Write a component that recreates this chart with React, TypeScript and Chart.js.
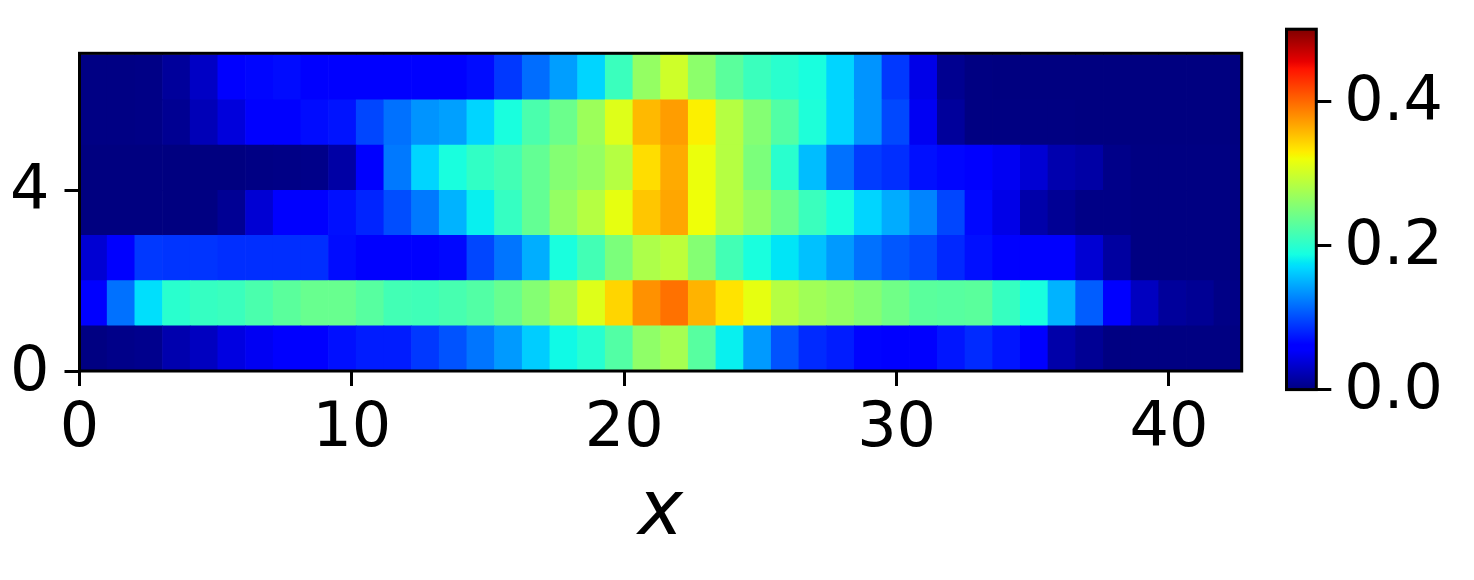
import React, { useEffect, useRef } from "react";
import { Chart, registerables } from "chart.js";

Chart.register(...registerables);

const row0 = [.001,.004,.006,.02,.028,.042,.05,.056,.062,.07,.076,.076,.09,.103,.12,.138,.163,.185,.198,.225,.262,.275,.228,.18,.138,.103,.083,.076,.064,.058,.06,.073,.083,.073,.056,.018,.009,.001,.001,.001,.001,.001];
const row1 = [.056,.118,.172,.2,.207,.21,.22,.23,.238,.238,.228,.215,.213,.218,.225,.238,.255,.275,.31,.342,.378,.395,.36,.335,.315,.285,.272,.265,.255,.243,.23,.228,.23,.208,.19,.15,.108,.056,.028,.012,.009,.003];
const row2 = [.036,.058,.09,.088,.088,.085,.085,.085,.085,.068,.062,.056,.062,.066,.097,.12,.148,.19,.215,.25,.28,.29,.255,.215,.19,.175,.157,.138,.118,.105,.098,.082,.07,.063,.06,.056,.036,.014,.001,.001,.001,.001];
const row3 = [0,0,0,0,.001,.009,.036,.055,.062,.07,.08,.1,.122,.15,.18,.207,.235,.265,.285,.315,.35,.367,.32,.285,.265,.24,.21,.19,.167,.147,.127,.097,.066,.045,.018,.009,.003,.003,.001,.001,.001,.001];
const row4 = [0,0,0,0,0,0,.002,.003,.004,.016,.055,.122,.167,.19,.205,.215,.235,.255,.265,.285,.338,.365,.318,.285,.25,.2,.155,.118,.092,.085,.07,.065,.058,.05,.036,.02,.016,.004,.001,.001,.001,.001];
const row5 = [.002,.002,.003,.008,.024,.04,.058,.062,.068,.072,.097,.118,.135,.141,.167,.19,.22,.24,.27,.31,.357,.372,.328,.285,.255,.225,.193,.167,.135,.098,.05,.012,.001,.001,.001,.001,0,0,0,0,0,0];
const row6 = [.002,.002,.003,.012,.03,.06,.065,.068,.06,.06,.06,.06,.06,.06,.068,.09,.116,.14,.167,.21,.265,.3,.26,.23,.21,.2,.19,.167,.135,.09,.045,.007,.001,0,0,0,0,0,0,0,0,0];
const rows = [row0, row1, row2, row3, row4, row5, row6];
const columnLabels = row0.map((_, i) => String(i));

const xLimit = 42.67;
const yLimit = 7.03;
const xTickStep = 10;
const yTickStep = 4;
const colorbarLimit = 0.5;
const colorbarTickStep = 0.2;
const colorbarSpan = [0, colorbarLimit];
const gradientStops = [0, 0.11, 0.125, 0.34, 0.35, 0.375, 0.64, 0.65, 0.66, 0.89, 0.91, 1];

const FONT = "'DejaVu Sans'";
const TICK_SIZE = 62;
const Y_LABEL_NUDGE = 2.5;

function ramp(t: number, pts: number[][]) {
  for (let i = 1; i < pts.length; i++) {
    if (t <= pts[i][0]) {
      const [a, av] = pts[i - 1];
      const [b, bv] = pts[i];
      return av + ((t - a) / (b - a)) * (bv - av);
    }
  }
  return pts[pts.length - 1][1];
}

function jet(t: number) {
  const r = ramp(t, [[0, 0], [0.35, 0], [0.66, 1], [0.89, 1], [1, 0.5]]);
  const g = ramp(t, [[0, 0], [0.125, 0], [0.375, 1], [0.64, 1], [0.91, 0], [1, 0]]);
  const b = ramp(t, [[0, 0.5], [0.11, 1], [0.34, 1], [0.65, 0], [1, 0]]);
  return `rgb(${Math.round(r * 255)},${Math.round(g * 255)},${Math.round(b * 255)})`;
}

const framePlugin = {
  id: "frame",
  beforeDraw(chart: any) {
    chart.scales.y.getLabelItems().forEach((item: any) => {
      item.textOffset += Y_LABEL_NUDGE;
    });
  },
  afterDatasetsDraw(chart: any) {
    const { ctx, chartArea: a } = chart;
    ctx.save();
    ctx.strokeStyle = "#000";
    ctx.lineWidth = 3;
    ctx.strokeRect(a.left, a.top, a.right - a.left, a.bottom - a.top);
    ctx.restore();
  },
};

const tickGrid = { drawOnChartArea: false, drawTicks: true, tickLength: 15, tickWidth: 3, tickColor: "#000", offset: false };

export default function App() {
  const mainRef = useRef<HTMLCanvasElement>(null);
  const barRef = useRef<HTMLCanvasElement>(null);

  useEffect(() => {
    const main = new Chart(mainRef.current!, {
      type: "bar",
      data: {
        labels: columnLabels,
        datasets: rows.map((vals, r) => ({
          data: vals.map(() => [r, r + 1]),
          backgroundColor: vals.map((v) => jet(v / colorbarLimit)),
          xAxisID: "cat",
          yAxisID: "y",
          grouped: false,
          barPercentage: 1,
          categoryPercentage: 1,
          borderWidth: 0,
        })),
      } as any,
      options: {
        responsive: false,
        animation: false,
        layout: { padding: { top: 53.3, right: 232.3, left: 0, bottom: 0 } },
        plugins: { legend: { display: false }, tooltip: { enabled: false } },
        scales: {
          cat: { type: "category", axis: "x", position: "bottom", display: false, offset: true, grid: { display: false } },
          x: {
            type: "linear",
            position: "bottom",
            min: 0,
            max: xLimit,
            offset: false,
            afterFit: (s: any) => { s.height = 209; },
            border: { display: false },
            grid: tickGrid,
            ticks: {
              stepSize: xTickStep,
              includeBounds: false,
              maxRotation: 0,
              autoSkip: false,
              padding: 7,
              color: "#000",
              font: { family: FONT, size: TICK_SIZE },
            },
            title: {
              display: true,
              text: "x",
              color: "#000",
              padding: { top: 0, bottom: 20 },
              font: { family: FONT, size: 76, style: "italic" },
            },
          },
          y: {
            type: "linear",
            position: "left",
            min: 0,
            max: yLimit,
            afterFit: (s: any) => { s.width = 79.5; s.paddingTop = 0; s.paddingBottom = 0; },
            border: { display: false },
            grid: tickGrid,
            ticks: {
              stepSize: yTickStep,
              includeBounds: false,
              autoSkip: false,
              padding: 15,
              color: "#000",
              font: { family: FONT, size: TICK_SIZE },
            },
          },
        },
      } as any,
      plugins: [framePlugin],
    });

    const bar = new Chart(barRef.current!, {
      type: "bar",
      data: {
        labels: ["colorbar"],
        datasets: [
          {
            data: [colorbarSpan],
            barPercentage: 1,
            categoryPercentage: 1,
            borderWidth: 0,
            backgroundColor: (c: any) => {
              const a = c.chart.chartArea;
              if (!a) return "#000";
              const y = c.chart.scales.y;
              const g = c.chart.ctx.createLinearGradient(0, y.getPixelForValue(0), 0, y.getPixelForValue(colorbarLimit));
              gradientStops.forEach((t) => g.addColorStop(t, jet(t)));
              return g;
            },
          },
        ],
      } as any,
      options: {
        responsive: false,
        animation: false,
        layout: { padding: { left: 46.5, top: 29.2, bottom: 190.4, right: 0 } },
        plugins: { legend: { display: false }, tooltip: { enabled: false } },
        scales: {
          x: { type: "category", display: false, offset: true, grid: { display: false } },
          y: {
            type: "linear",
            position: "right",
            min: 0,
            max: colorbarLimit,
            afterFit: (s: any) => { s.width = 157.7; s.paddingTop = 0; s.paddingBottom = 0; },
            border: { display: false },
            grid: tickGrid,
            ticks: {
              stepSize: colorbarTickStep,
              includeBounds: false,
              autoSkip: false,
              padding: 13,
              color: "#000",
              font: { family: FONT, size: TICK_SIZE },
              callback: (v: any) => Number(v).toFixed(1),
            },
          },
        },
      } as any,
      plugins: [framePlugin],
    });

    return () => {
      main.destroy();
      bar.destroy();
    };
  }, []);

  return (
    <div style={{ position: "fixed", left: 0, top: 0, width: 1474, height: 580, background: "#fff" }}>
      <canvas ref={mainRef} width={1474} height={580} style={{ position: "absolute", left: 0, top: 0 }} />
      <canvas ref={barRef} width={234} height={580} style={{ position: "absolute", left: 1240, top: 0 }} />
    </div>
  );
}
